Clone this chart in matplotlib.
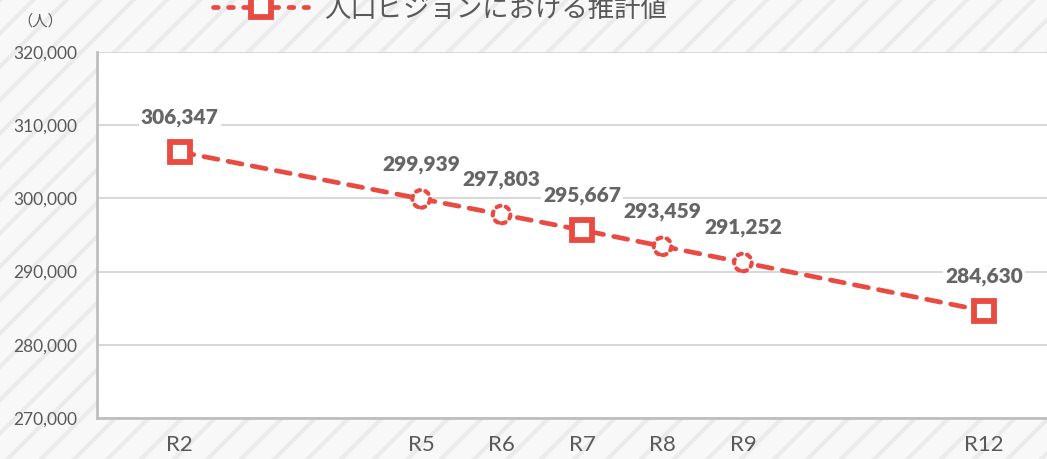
import numpy as np
import matplotlib.pyplot as plt

plt.rcParams['font.family'] = ['Lato', 'Noto Sans CJK JP', 'DejaVu Sans']
plt.rcParams['hatch.linewidth'] = 3

# 推計人口（人）
years = [2, 5, 6, 7, 8, 9, 12]
labels = ['R2', 'R5', 'R6', 'R7', 'R8', 'R9', 'R12']
population = [306347, 299939, 297803, 295667, 293459, 291252, 284630]
key_years = [2, 7, 12]          # 人口ビジョンで示された年
series_name = '人口ビジョンにおける推計値'

red = '#E94B43'
grey_text = '#595959'
label_grey = '#666666'

fig = plt.figure(figsize=(10.47, 4.59), dpi=100)
fig.patch.set_facecolor('#F8F8F8')
fig.patch.set_edgecolor('#EBEBEB')
fig.patch.set_hatch('/')
fig.patch.set_linewidth(0)

ax = fig.add_axes([97 / 1047, 1 - 418 / 459, 950 / 1047, 366 / 459])
ax.set_facecolor('white')

key_pop = [p for y, p in zip(years, population) if y in key_years]
mid_years = [y for y in years if y not in key_years]
mid_pop = [p for y, p in zip(years, population) if y not in key_years]

ax.plot(years, population, color=red, lw=3.4, ls=(0, (3, 2.2)),
        dash_capstyle='round', zorder=2)
ax.plot(key_years, key_pop, ls='none', marker='s', ms=15, mew=4.2,
        mfc='white', mec=red, zorder=4)
dots = ax.scatter(mid_years, mid_pop, s=160, facecolor='white', edgecolor=red,
                  linewidths=3, linestyle=(0, (1, 1.3)), zorder=3)
dots.set_capstyle('round')

for x, y in zip(years, population):
    ax.annotate(f'{y:,}', (x, y), xytext=(0, 25), textcoords='offset points',
                ha='center', va='center', fontsize=15, fontweight='heavy',
                color=label_grey,
                bbox=dict(boxstyle='square,pad=0.1', fc='white', ec='none'))

ax.set_xlim(0.97, 12.78)
ax.set_ylim(270000, 320000)
ax.set_yticks(np.arange(270000, 320001, 10000))
ax.yaxis.set_major_formatter(plt.FuncFormatter(lambda v, p: f'{int(v):,}'))
ax.set_xticks(years)
ax.set_xticklabels(labels)
ax.tick_params(axis='y', length=0, pad=14, labelsize=12.5, labelcolor=grey_text)
ax.tick_params(axis='x', length=0, pad=12, labelsize=16, labelcolor=grey_text)
ax.grid(axis='y', color='#D4D4D4', lw=1.3)
ax.set_axisbelow(True)

for side in ['top', 'right']:
    ax.spines[side].set_visible(False)
for side in ['left', 'bottom']:
    ax.spines[side].set_color('#BFBFBF')
    ax.spines[side].set_linewidth(2)

fig.text(40 / 1047, 1 - 21 / 459, '（人）', ha='center', va='center',
         fontsize=11, color=grey_text)

legend_handle = ax.plot([], [], color=red, lw=3.4, ls=(0, (1, 2.2)),
                        dash_capstyle='round', marker='s', ms=15, mew=4.2,
                        mfc='white', mec=red)[0]
fig.legend([legend_handle], [series_name], loc='center',
           bbox_to_anchor=(440 / 1047, 1 - 9 / 459), frameon=False,
           fontsize=19, handlelength=3.6, handletextpad=0.6,
           labelcolor=grey_text)

fig.savefig('out.png', dpi=100, facecolor=fig.get_facecolor())
